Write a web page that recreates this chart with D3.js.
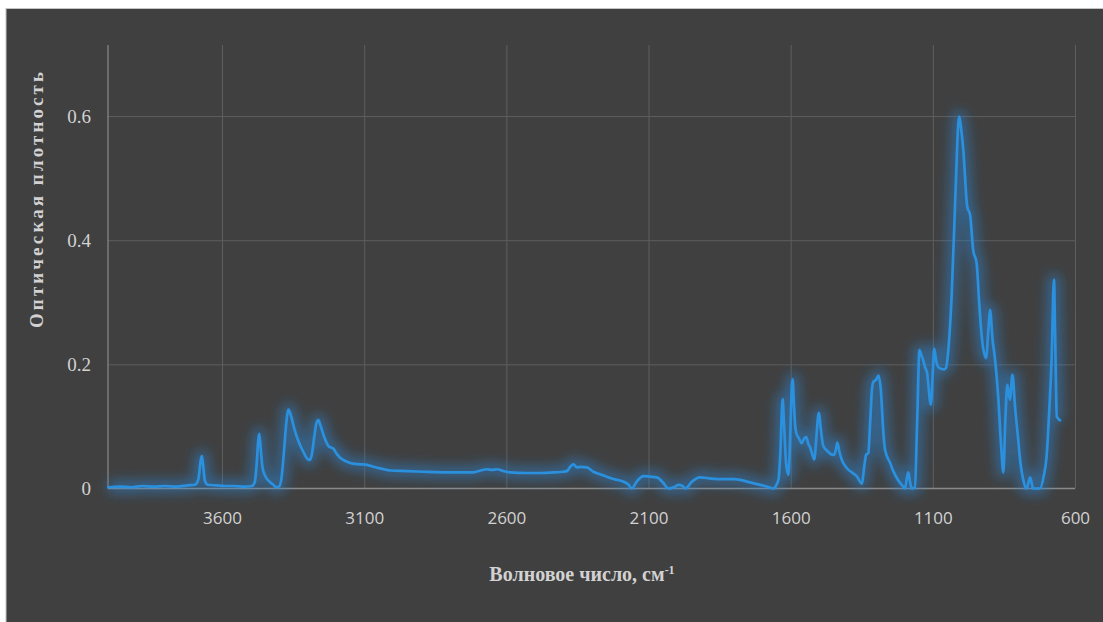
<!DOCTYPE html>
<html>
<head>
<meta charset="utf-8">
<script src="https://cdn.jsdelivr.net/npm/d3@7"></script>
<style>
  html, body { margin: 0; padding: 0; background: #ffffff; }
  svg { display: block; }
</style>
</head>
<body>
<svg id="chart" width="1103" height="622"></svg>
<script>
// IR absorption spectrum: wavenumber (cm^-1) and optical density
const wavenumbers = [
  4000, 3960, 3920, 3880, 3840, 3800, 3760, 3720, 3695, 3683, 3675, 3671, 3667, 3660, 3650,
  3620, 3590, 3560, 3520, 3495, 3485, 3478, 3472, 3469, 3465, 3458, 3448, 3435, 3420, 3408,
  3398, 3390, 3382, 3374, 3366, 3358, 3345, 3330, 3315, 3300, 3292, 3284, 3275, 3268, 3261,
  3254, 3240, 3225, 3208, 3195, 3180, 3160, 3140, 3114, 3090, 3067, 3040, 3008, 2950, 2891,
  2800, 2716, 2690, 2668, 2650, 2633, 2610, 2587, 2530, 2481, 2430, 2400, 2387, 2375, 2364,
  2352, 2340, 2317, 2294, 2270, 2247, 2220, 2188, 2170, 2159, 2140, 2118, 2095, 2071, 2050,
  2030, 2010, 1995, 1980, 1971, 1945, 1919, 1880, 1837, 1800, 1778, 1745, 1719, 1690, 1661,
  1650, 1643, 1636, 1630, 1628, 1624, 1616, 1608, 1602, 1596, 1593, 1589, 1584, 1580, 1570,
  1561, 1553, 1545, 1538, 1532, 1524, 1517, 1510, 1503, 1500, 1495, 1485, 1470, 1461, 1447,
  1440, 1436, 1428, 1420, 1403, 1385, 1368, 1350, 1340, 1335, 1327, 1320, 1314, 1309, 1300,
  1291, 1283, 1274, 1268, 1250, 1239, 1220, 1204, 1198, 1190, 1186, 1180, 1174, 1163, 1155,
  1147, 1140, 1136, 1127, 1121, 1107, 1101, 1095, 1088, 1077, 1060, 1054, 1045, 1034, 1020,
  1010, 1007, 1002, 993, 979, 969, 958, 946, 937, 928, 913, 904, 899, 890, 881,
  870, 860, 852, 845, 838, 829, 820, 811, 800, 793, 780, 770, 758, 747, 723,
  710, 700, 690, 682, 676, 674, 670, 664, 653
];
const absorbance = [
  0.002, 0.003, 0.002, 0.004, 0.003, 0.004, 0.003, 0.005, 0.006, 0.015, 0.045, 0.052, 0.040, 0.012, 0.006,
  0.005, 0.004, 0.004, 0.003, 0.004, 0.010, 0.040, 0.080, 0.088, 0.070, 0.035, 0.020, 0.012, 0.006, 0.002,
  0.004, 0.020, 0.060, 0.105, 0.127, 0.118, 0.095, 0.075, 0.060, 0.048, 0.046, 0.055, 0.085, 0.105, 0.110,
  0.102, 0.082, 0.068, 0.064, 0.055, 0.048, 0.043, 0.040, 0.039, 0.038, 0.035, 0.032, 0.029, 0.028, 0.027,
  0.026, 0.026, 0.029, 0.031, 0.030, 0.031, 0.028, 0.026, 0.025, 0.025, 0.026, 0.027, 0.028, 0.035, 0.039,
  0.034, 0.035, 0.034, 0.027, 0.023, 0.019, 0.015, 0.011, 0.006, 0.000, 0.012, 0.020, 0.019, 0.018, 0.010,
  0.000, 0.002, 0.006, 0.004, 0.000, 0.012, 0.018, 0.016, 0.015, 0.015, 0.014, 0.010, 0.007, 0.004, 0.000,
  0.006, 0.014, 0.060, 0.135, 0.144, 0.110, 0.040, 0.022, 0.080, 0.165, 0.176, 0.140, 0.100, 0.089, 0.080,
  0.073, 0.080, 0.083, 0.072, 0.067, 0.055, 0.047, 0.080, 0.118, 0.122, 0.100, 0.068, 0.060, 0.056, 0.054,
  0.065, 0.074, 0.058, 0.046, 0.033, 0.026, 0.020, 0.008, 0.040, 0.054, 0.057, 0.110, 0.160, 0.172, 0.175,
  0.182, 0.159, 0.090, 0.062, 0.041, 0.028, 0.012, 0.003, 0.000, 0.020, 0.026, 0.010, 0.000, 0.002, 0.110,
  0.223, 0.214, 0.210, 0.195, 0.188, 0.135, 0.180, 0.225, 0.205, 0.194, 0.192, 0.194, 0.226, 0.309, 0.480,
  0.590, 0.599, 0.585, 0.546, 0.454, 0.441, 0.384, 0.363, 0.300, 0.245, 0.210, 0.260, 0.288, 0.240, 0.207,
  0.148, 0.070, 0.026, 0.110, 0.167, 0.143, 0.183, 0.132, 0.080, 0.046, 0.010, 0.000, 0.018, 0.000, 0.000,
  0.020, 0.051, 0.130, 0.212, 0.320, 0.336, 0.250, 0.116, 0.110
];
const xTicks = [3600, 3100, 2600, 2100, 1600, 1100, 600];
const yTicks = [0, 0.2, 0.4, 0.6];
const xTitle = "Волновое число, см";
const xTitleSup = "-1";
const yTitle = "Оптическая плотность";

const spectrum = wavenumbers.map((w, i) => ({ w, a: absorbance[i] }));

const svg = d3.select("#chart");
const W = 1103, H = 622;
const plot = { left: 108, right: 1075, top: 45, bottom: 488.5 };

// chart panel
svg.append("rect").attr("x", 0).attr("y", 0).attr("width", W).attr("height", H).attr("fill", "#ffffff");
svg.append("rect").attr("x", 6).attr("y", 8.5).attr("width", W - 5).attr("height", H - 7)
  .attr("fill", "#404040").attr("stroke", "#c4c4c4").attr("stroke-width", 1);

const x = d3.scaleLinear().domain([4001, 600]).range([plot.left, plot.right]);
const y = d3.scaleLinear().domain([0, 0.7145]).range([plot.bottom, plot.top]);

// gridlines
const gx = svg.append("g").attr("transform", `translate(0,${plot.bottom})`)
  .call(d3.axisBottom(x).tickValues(xTicks).tickSize(-(plot.bottom - plot.top)).tickFormat(""));
gx.select(".domain").remove();
gx.selectAll(".tick line").attr("stroke", "#5e5e5e").attr("stroke-width", 1);

const gy = svg.append("g").attr("transform", `translate(${plot.left},0)`)
  .call(d3.axisLeft(y).tickValues(yTicks.filter(d => d > 0)).tickSize(-(plot.right - plot.left)).tickFormat(""));
gy.select(".domain").remove();
gy.selectAll(".tick line").attr("stroke", "#5e5e5e").attr("stroke-width", 1);

// axis lines
svg.append("line").attr("x1", plot.left).attr("x2", plot.left).attr("y1", plot.top).attr("y2", plot.bottom)
  .attr("stroke", "#8a8a8a").attr("stroke-width", 1.2);
svg.append("line").attr("x1", plot.left).attr("x2", plot.right).attr("y1", plot.bottom).attr("y2", plot.bottom)
  .attr("stroke", "#8a8a8a").attr("stroke-width", 1.5);

// tick labels
const xl = svg.append("g").attr("transform", `translate(0,${plot.bottom})`)
  .call(d3.axisBottom(x).tickValues(xTicks).tickSize(0).tickPadding(23).tickFormat(d3.format("d")));
xl.select(".domain").remove();
xl.selectAll("text").attr("fill", "#d2d2d2").attr("font-family", "'Open Sans', sans-serif").attr("font-size", 17);

const yl = svg.append("g").attr("transform", `translate(${plot.left},0)`)
  .call(d3.axisLeft(y).tickValues(yTicks).tickSize(0).tickPadding(17)
    .tickFormat(d => d === 0 ? "0" : d.toFixed(1)));
yl.select(".domain").remove();
yl.selectAll("text").attr("fill", "#d2d2d2").attr("font-family", "'Liberation Serif', serif").attr("font-size", 19);

// glow under the spectrum line
const defs = svg.append("defs");
const f = defs.append("filter").attr("id", "glow").attr("x", "-5%").attr("y", "-20%").attr("width", "110%").attr("height", "140%");
f.append("feGaussianBlur").attr("stdDeviation", 6);

const line = d3.line().x(d => x(d.w)).y(d => y(d.a)).curve(d3.curveMonotoneX);

svg.append("path").datum(spectrum).attr("d", line)
  .attr("fill", "none").attr("stroke", "#2a86d6").attr("stroke-width", 13).attr("stroke-opacity", 0.5)
  .attr("stroke-linejoin", "round").attr("filter", "url(#glow)");
svg.append("path").datum(spectrum).attr("d", line)
  .attr("fill", "none").attr("stroke", "#2b90de").attr("stroke-width", 2.7)
  .attr("stroke-linejoin", "round").attr("stroke-linecap", "round");

// axis titles
const xt = svg.append("text").attr("x", 582).attr("y", 581).attr("text-anchor", "middle")
  .attr("fill", "#d2d2d2").attr("font-family", "'Liberation Serif', serif").attr("font-weight", "bold").attr("font-size", 20);
xt.append("tspan").text(xTitle);
xt.append("tspan").attr("dy", -7).attr("font-size", 12).text(xTitleSup);

svg.append("text").attr("transform", "translate(43,200) rotate(-90)").attr("text-anchor", "middle")
  .attr("fill", "#d2d2d2").attr("font-family", "'Liberation Serif', serif").attr("font-weight", "bold").attr("font-size", 19)
  .attr("textLength", 256).attr("lengthAdjust", "spacing")
  .text(yTitle);
</script>
</body>
</html>
